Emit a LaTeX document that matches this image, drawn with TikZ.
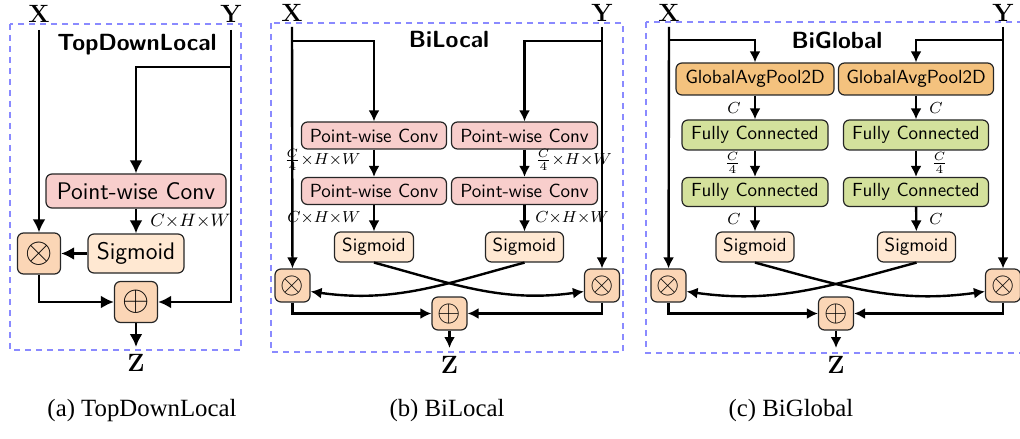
\documentclass[tikz,border=0pt]{standalone}
\usepackage{fontspec}
\newfontfamily\capfont{Liberation Serif}
\usetikzlibrary{arrows.meta}
\definecolor{pwc}{HTML}{F8CECC}
\definecolor{sigc}{HTML}{FFE8D2}
\definecolor{opc}{HTML}{FBD6B6}
\definecolor{gapc}{HTML}{F4C27E}
\definecolor{fcc}{HTML}{D4E19C}
\definecolor{framec}{HTML}{8A8AFF}
\newcommand{\opA}[1]{\scalebox{1.75}{$#1$}}
\newcommand{\opB}[1]{\scalebox{1.5}{$#1$}}
\begin{document}
\begin{tikzpicture}[x=0.5pt,y=-0.5pt,
  box/.style={draw=black!85, line width=0.6pt, rounded corners=3pt, inner sep=0pt, align=center},
  fA/.style={font=\fontsize{12}{14}\selectfont\sffamily},
  fB/.style={font=\fontsize{9.5}{11}\selectfont\sffamily},
  pw/.style={box, fill=pwc},
  sig/.style={box, fill=sigc},
  gap/.style={box, fill=gapc},
  fc/.style={box, fill=fcc},
  opbA/.style={box, fill=opc, minimum width=21.5pt, minimum height=20.5pt},
  opbB/.style={box, fill=opc, minimum width=17.5pt, minimum height=16.5pt},
  lbl/.style={inner sep=0pt, font=\fontsize{12.5}{13}\selectfont\bfseries},
  ttl/.style={inner sep=0pt, font=\fontsize{11.7}{13}\selectfont\sffamily\bfseries},
  capt/.style={inner sep=0pt, font=\capfont\fontsize{12.4}{14}\selectfont},
  mlA/.style={inner sep=0pt, font=\fontsize{9.5}{11}\selectfont},
  mlB/.style={inner sep=0pt, font=\fontsize{8}{9}\selectfont},
  mlC/.style={inner sep=0pt, font=\fontsize{8}{9}\selectfont},
  arrA/.style={line width=1.4pt, -{Latex[length=6.5pt,width=6.5pt]}},
  arrB/.style={line width=1.2pt, -{Latex[length=5.5pt,width=5.5pt]}},
  frame/.style={draw=framec, line width=0.6pt, dash pattern=on 3pt off 2.5pt}
]
\useasboundingbox (0,0) rectangle (1020,438);

% ---------------- (a) TopDownLocal ----------------
\draw[frame] (10,24) rectangle (241,350);
\node[lbl] (XA) at (39,14) {X};
\node[lbl] (YA) at (231,14) {Y};
\coordinate (xa) at (39,30);
\coordinate (ya) at (231,30);
\coordinate (yab) at (231,67);
\node[ttl] (tA) at (137,45) {TopDownLocal};
\node[pw, fA, minimum width=90pt, minimum height=17pt] (pwA) at (136,191) {Point-wise Conv};
\node[sig, fA, minimum width=48pt, minimum height=19.5pt] (sigA) at (136,253.5) {Sigmoid};
\node[opbA] (mulA) at (39,253.5) {\opA{\otimes}};
\node[opbA] (addA) at (136,302) {\opA{\oplus}};
\coordinate (zA) at (136,347);
\node[lbl] (ZA) at (136,363) {Z};
\node[mlA, anchor=west] (lA) at (150,221) {$C{\times}H{\times}W$};
\draw[arrA] (xa) -- (mulA);
\draw[arrA] (ya) |- (addA);
\draw[arrA] (yab) -| (pwA);
\draw[arrA] (pwA) -- (sigA);
\draw[arrA] (sigA) -- (mulA);
\draw[arrA] (mulA) |- (addA);
\draw[arrA] (addA) -- (zA);
\node[capt] (cA) at (142,411) {(a) TopDownLocal};

% ---------------- (b) BiLocal ----------------
\draw[frame] (271,23) rectangle (623,352);
\node[lbl] (XB) at (292,13) {X};
\node[lbl] (YB) at (602,13) {Y};
\coordinate (xb) at (292,27);
\coordinate (yb) at (602,27);
\coordinate (xbb) at (292,41);
\coordinate (ybb) at (602,41);
\node[ttl] (tB) at (449,40) {BiLocal};
\node[pw, fB, minimum width=72.5pt, minimum height=13.5pt] (pw1BL) at (374,135.5) {Point-wise Conv};
\node[pw, fB, minimum width=72.5pt, minimum height=13.5pt] (pw2BL) at (374,191) {Point-wise Conv};
\node[pw, fB, minimum width=73pt, minimum height=13.5pt] (pw1BR) at (524.5,135.5) {Point-wise Conv};
\node[pw, fB, minimum width=73pt, minimum height=13.5pt] (pw2BR) at (524.5,191) {Point-wise Conv};
\node[sig, fB, minimum width=39.5pt, minimum height=15pt] (sigBL) at (374,247) {Sigmoid};
\node[sig, fB, minimum width=39pt, minimum height=15pt] (sigBR) at (524.5,247) {Sigmoid};
\node[opbB] (mulBL) at (292.5,285.5) {\opB{\otimes}};
\node[opbB] (mulBR) at (602,285.5) {\opB{\otimes}};
\node[opbB] (addB) at (449.5,313.5) {\opB{\oplus}};
\coordinate (zB) at (449.5,348);
\node[lbl] (ZB) at (449.5,365) {Z};
\node[mlB, anchor=east] (l1BL) at (361,160) {$\frac{C}{4}{\times}H{\times}W$};
\node[mlB, anchor=west] (l1BR) at (535,160) {$\frac{C}{4}{\times}H{\times}W$};
\node[mlB, anchor=east] (l2BL) at (361,218) {$C{\times}H{\times}W$};
\node[mlB, anchor=west] (l2BR) at (535,218) {$C{\times}H{\times}W$};
\draw[arrB] (xb) -- (mulBL);
\draw[arrB] (yb) -- (mulBR);
\draw[arrB] (xbb) -| (pw1BL);
\draw[arrB] (ybb) -| (pw1BR);
\draw[arrB] (pw1BL) -- (pw2BL);
\draw[arrB] (pw1BR) -- (pw2BR);
\draw[arrB] (pw2BL) -- (sigBL);
\draw[arrB] (pw2BR) -- (sigBR);
\draw[arrB] (sigBL.south) to[out=-15,in=188] ([yshift=-3pt]mulBR.west);
\draw[arrB] (sigBR.south) to[out=195,in=-8] ([yshift=-3pt]mulBL.east);
\draw[arrB] (mulBL) |- (addB);
\draw[arrB] (mulBR) |- (addB);
\draw[arrB] (addB) -- (zB);
\node[capt] (cB) at (447,411) {(b) BiLocal};

% ---------------- (c) BiGlobal ----------------
\draw[frame] (646,22) rectangle (1026,353);
\node[lbl] (XC) at (669,13) {X};
\node[lbl] (YC) at (1003,13) {Y};
\coordinate (xc) at (669,27);
\coordinate (yc) at (1003,27);
\coordinate (xcb) at (669,40);
\coordinate (ycb) at (1003,40);
\node[ttl] (tC) at (837,40) {BiGlobal};
\node[gap, fB, minimum width=79pt, minimum height=16pt] (gapL) at (755,79) {GlobalAvgPool2D};
\node[gap, fB, minimum width=77.5pt, minimum height=16pt] (gapR) at (916,79) {GlobalAvgPool2D};
\node[fc, fB, minimum width=73pt, minimum height=15pt] (fc1L) at (755,135) {Fully Connected};
\node[fc, fB, minimum width=72.5pt, minimum height=15pt] (fc1R) at (916,135) {Fully Connected};
\node[fc, fB, minimum width=73pt, minimum height=14.5pt] (fc2L) at (755,192) {Fully Connected};
\node[fc, fB, minimum width=72.5pt, minimum height=14.5pt] (fc2R) at (916,192) {Fully Connected};
\node[sig, fB, minimum width=39pt, minimum height=15pt] (sigCL) at (755,247) {Sigmoid};
\node[sig, fB, minimum width=39pt, minimum height=15pt] (sigCR) at (916.5,247) {Sigmoid};
\node[opbB] (mulCL) at (668.5,285.5) {\opB{\otimes}};
\node[opbB] (mulCR) at (1003,285.5) {\opB{\otimes}};
\node[opbB] (addC) at (836,313.5) {\opB{\oplus}};
\coordinate (zC) at (836,348);
\node[lbl] (ZC) at (836,365) {Z};
\node[mlC, anchor=east] (c1L) at (741,108) {$C$};
\node[mlC, anchor=west] (c1R) at (929,108) {$C$};
\node[mlC, anchor=east] (c2L) at (741,163) {$\frac{C}{4}$};
\node[mlC, anchor=west] (c2R) at (931,163) {$\frac{C}{4}$};
\node[mlC, anchor=east] (c3L) at (741,219) {$C$};
\node[mlC, anchor=west] (c3R) at (929,219) {$C$};
\draw[arrB] (xc) -- (mulCL);
\draw[arrB] (yc) -- (mulCR);
\draw[arrB] (xcb) -| (gapL);
\draw[arrB] (ycb) -| (gapR);
\draw[arrB] (gapL) -- (fc1L);
\draw[arrB] (gapR) -- (fc1R);
\draw[arrB] (fc1L) -- (fc2L);
\draw[arrB] (fc1R) -- (fc2R);
\draw[arrB] (fc2L) -- (sigCL);
\draw[arrB] (fc2R) -- (sigCR);
\draw[arrB] (sigCL.south) to[out=-15,in=188] ([yshift=-3pt]mulCR.west);
\draw[arrB] (sigCR.south) to[out=195,in=-8] ([yshift=-3pt]mulCL.east);
\draw[arrB] (mulCL) |- (addC);
\draw[arrB] (mulCR) |- (addC);
\draw[arrB] (addC) -- (zC);
\node[capt] (cC) at (791,411) {(c) BiGlobal};
\end{tikzpicture}
\end{document}
